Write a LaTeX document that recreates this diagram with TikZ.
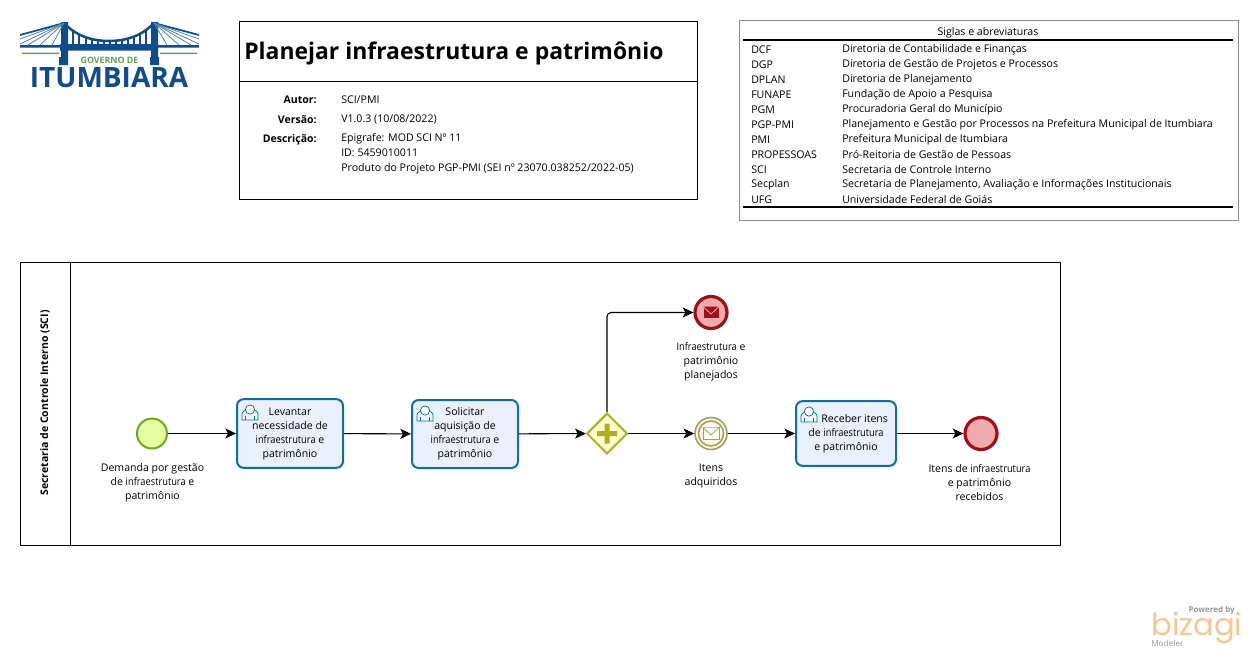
\documentclass[tikz,border=0pt]{standalone}
\usepackage{fontspec}
\setmainfont{Open Sans}
\newfontfamily\tightfam{Open Sans}[FakeStretch=.88]
\newfontfamily\bizfam{Poppins}
\newcommand{\tg}[1]{{\tightfam #1}}
\usetikzlibrary{arrows.meta,shapes.geometric}
\definecolor{taskblue}{HTML}{0F6E9F}
\definecolor{taskfill}{HTML}{EAF0FC}
\definecolor{logoblue}{HTML}{0E4C8C}
\definecolor{logogreen}{HTML}{5FA05A}
\definecolor{startline}{HTML}{6EAA1E}
\definecolor{startfill}{HTML}{E8FCA0}
\definecolor{gateline}{HTML}{AFAF1E}
\definecolor{gatefill}{HTML}{FCFCCD}
\definecolor{endline}{HTML}{A00F19}
\definecolor{endfill}{HTML}{EEAAAC}
\definecolor{catchline}{HTML}{A59B64}
\definecolor{catchfill}{HTML}{FCFAE1}
\definecolor{bizorange}{HTML}{F8C595}
\tikzset{
  txt/.style={font=\fontsize{7.9}{10.5}\selectfont,align=center,inner sep=0pt},
  infotxt/.style={font=\fontsize{7.95}{11.25}\selectfont,inner sep=0pt},
  infobold/.style={font=\fontsize{7.9}{11.25}\selectfont\bfseries,inner sep=0pt,anchor=east},
  flow/.style={-{Stealth[length=8pt,width=7.5pt,inset=2pt]},line width=.8pt},
  task/.style={draw=taskblue,fill=taskfill,line width=1.5pt,rounded corners=5pt,txt},
  event/.style={circle,inner sep=0pt},
  user/.pic={
    \draw[taskblue,line width=.55pt,fill=taskfill!60!white] (-8,7) -- (-8,1) .. controls (-8,-2) and (-4,-3) .. (-3,-3)
      -- (3,-3) .. controls (4,-3) and (8,-2) .. (8,1) -- (8,7) -- cycle;
    \draw[taskblue,line width=.55pt,fill=white] (0,-3.5) circle (4.6);
    \draw[taskblue,line width=.55pt] (-4.5,7) -- (-4.5,3) (4.5,7) -- (4.5,3);
  },
  mail/.pic={
    \path[pic actions] (-8,-6) rectangle (8,6);
    \draw[pic actions] (-8,-6) -- (0,1.5) -- (8,-6);
  }
}
\begin{document}
\begin{tikzpicture}[x=.75pt,y=-.75pt]
\useasboundingbox (0,0) rectangle (1258,658);
% logo
\draw[logoblue,line width=1.9pt] (64,23) .. controls (78,38) and (96,41) .. (109,41) .. controls (122,41) and (140,38) .. (154,23);
\foreach \xa/\ya in {73/31,79/34.5,86/37,92/39,98/40,104/40.7,110/41,116/40.7,122/40,128/38.5,134/36.5,140/34,146/30}
  \draw[logoblue,line width=.8pt] (\xa,\ya) -- (\xa,46);
\fill[logoblue] (20,45) rectangle (60,47.5) (158,45) rectangle (199,47.5) (60,44) rectangle (158,50.5);
\fill[logoblue] (61,22) rectangle (68,58) (151,22) rectangle (158,58) (59,57) rectangle (68,65) (150,57) rectangle (159,65);
\draw[logoblue,line width=1.3pt] (64,23) -- (20,35) (154,23) -- (199,35);
\foreach \xa/\ya in {20/39,20/44,28/45,40/45,52/45}
  \draw[logoblue!70!white,line width=.6pt] (64,23) -- (\xa,\ya);
\foreach \xa/\ya in {199/39,199/44,191/45,179/45,167/45}
  \draw[logoblue!70!white,line width=.6pt] (154,23) -- (\xa,\ya);
\fill[logogreen] (22,52.5) rectangle (59,54) (160,52.5) rectangle (197,54);
\node[inner sep=0pt,text=logogreen,font=\fontsize{6.6}{7}\selectfont\bfseries] (logogov) at (109.5,60.5) {GOVERNO DE};
\node[inner sep=0pt,text=logoblue,font=\fontsize{21}{20}\selectfont\bfseries] (logoname) at (109,78) {ITUMBIARA};
% title box
\draw[line width=.75pt] (239.5,21.5) rectangle (697.5,199.5);
\draw[line width=.75pt] (239.5,81.5) -- (697.5,81.5);
\node[anchor=west,inner sep=0pt,font=\fontsize{17.2}{20}\selectfont\bfseries] (title) at (244,53.5) {Planejar infraestrutura e patrimônio};
\node[infobold] (lblautor) at (317,99.5) {Autor:};
\node[infobold] (lblversao) at (317,119.5) {Versão:};
\node[infobold] (lbldescr) at (317,139.5) {Descrição:};
\node[infotxt,anchor=west] (autor) at (341,99.5) {SCI/PMI};
\node[infotxt,anchor=west] (versao) at (341,119.5) {V1.0.3 (10/08/2022)};
\node[infotxt,anchor=north west,align=left] (descr) at (341,133.5) {Epigrafe: MOD SCI Nº 11\\ID: 5459010011\\Produto do Projeto PGP-PMI (SEI nº 23070.038252/2022-05)};
% siglas
\draw[black!45,line width=.75pt] (739.5,20.5) rectangle (1238,220);
\node[infotxt] (siglas) at (988,32.5) {Siglas e abreviaturas};
\draw[line width=1.5pt] (743,40) -- (1233,40);
\draw[line width=1.5pt] (743,206.5) -- (1233,206.5);
\foreach \sig/\nome [count=\i from 0] in {DCF/Diretoria de Contabilidade e Finanças,
  DGP/Diretoria de Gestão de Projetos e Processos,
  DPLAN/Diretoria de Planejamento,
  FUNAPE/Fundação de Apoio a Pesquisa,
  PGM/Procuradoria Geral do Município,
  PGP-PMI/Planejamento e Gestão por Processos na Prefeitura Municipal de Itumbiara,
  PMI/Prefeitura Municipal de Itumbiara,
  PROPESSOAS/Pró-Reitoria de Gestão de Pessoas,
  SCI/Secretaria de Controle Interno,
  Secplan/{Secretaria de Planejamento, Avaliação e Informações Institucionais},
  UFG/Universidade Federal de Goiás} {
  \node[infotxt,anchor=west] (sig\i) at (751,49.5+15*\i) {\sig};
  \node[infotxt,anchor=west] (nome\i) at (842,49.5+15*\i) {\nome};
}
% lane
\draw[line width=.75pt] (20.5,262) rectangle (1060.5,545.5);
\draw[line width=.75pt] (70.5,262) -- (70.5,545.5);
\node[txt,rotate=90,font=\fontsize{7.9}{10}\selectfont\bfseries] (lane) at (45,403) {Secretaria de Controle Interno (SCI)};
% events and tasks
\node[event,draw=startline,fill=startfill,line width=1.5pt,minimum size=22.5pt] (start) at (152,433.5) {};
\node[task,minimum width=79.5pt,minimum height=51.5pt] (task1) at (290,433.5) {Levantar\\necessidade de\\\tg{infraestrutura} e\\patrimônio};
\node[task,minimum width=79.5pt,minimum height=51pt] (task2) at (465,434) {Solicitar\\aquisição de\\\tg{infraestrutura} e\\patrimônio};
\node[task,minimum width=75pt,minimum height=48.5pt] (task3) at (846,433.5) {\hspace*{13pt}Receber itens\\de \tg{infraestrutura}\\e patrimônio};
\node[diamond,draw=gateline,fill=gatefill,line width=1.5pt,minimum size=30.5pt,inner sep=0pt] (gate) at (607,433.5) {};
\node[event,draw=endline,fill=endfill,line width=2.4pt,minimum size=24pt] (endmsg) at (711,312.5) {};
\node[event,draw=catchline,fill=catchfill,line width=1.2pt,minimum size=24pt] (catch) at (711,433.5) {};
\node[event,draw=endline,fill=endfill,line width=2.4pt,minimum size=24pt] (endev) at (981,433.5) {};
% symbols inside
\fill[gateline] (597,431) rectangle (617,436) (604.5,423.5) rectangle (609.5,443.5);
\draw[catchline,line width=1.2pt] (711,433.5) circle (12.5);
\path (711,312.5) pic[fill=endline,draw=endfill,line width=.6pt] {mail};
\path (711,433.5) pic[fill=white,draw=catchline,line width=.6pt] {mail};
\path (250,413) pic {user};
\path (425,414) pic {user};
\path (809,415) pic {user};
% labels
\node[txt] (lblstart) at (152.5,482.5) {Demanda por gestão\\de \tg{infraestrutura} e\\patrimônio};
\node[txt] (lblendmsg) at (711,361.5) {\tg{Infraestrutura} e\\patrimônio\\planejados};
\node[txt] (lblcatch) at (711,475.5) {Itens\\adquiridos};
\node[txt] (lblendev) at (979.5,482.5) {Itens de \tg{infraestrutura}\\e patrimônio\\recebidos};
% flows
\draw[flow] (start) -- (task1);
\draw[flow] (task1) -- (task2);
\draw[flow] (task2) -- (gate);
\draw[flow] (gate) -- (catch);
\draw[flow,rounded corners=3pt] (gate.north) |- (endmsg);
\draw[flow] (catch) -- (task3);
\draw[flow] (task3) -- (endev);
% bizagi mark
\node[inner sep=0pt,anchor=east,text=black!40,font=\fontsize{6}{6}\selectfont\bfseries] (powered) at (1235,610) {Powered by};
\node[inner sep=0pt,anchor=base west,text=bizorange,font=\bizfam\fontsize{23}{23}\selectfont] (bizagi) at (1151,635) {bizagi};
\node[inner sep=0pt,anchor=west,text=black!40,font=\fontsize{6.2}{6}\selectfont] (modeler) at (1151,643) {Modeler};
\end{tikzpicture}
\end{document}
